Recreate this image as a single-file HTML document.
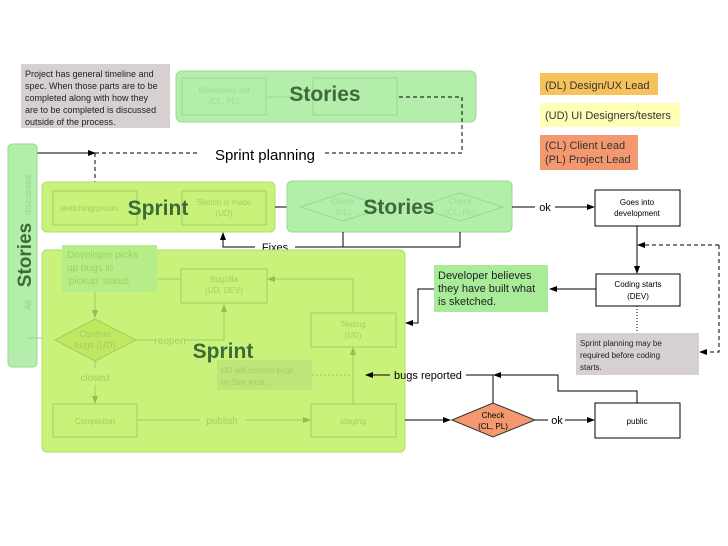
<!DOCTYPE html>
<html><head><style>body{margin:0;background:#fff}svg{display:block;font-family:"Liberation Sans",sans-serif}</style></head><body>
<svg width="728" height="546" viewBox="0 0 728 546" xmlns="http://www.w3.org/2000/svg">
<defs><marker id="a" markerWidth="8" markerHeight="8" refX="7" refY="4" orient="auto" markerUnits="userSpaceOnUse"><path d="M0,1 L8,4 L0,7z" fill="#000"/></marker>
<marker id="g" markerWidth="8" markerHeight="8" refX="7" refY="4" orient="auto" markerUnits="userSpaceOnUse"><path d="M0,1 L8,4 L0,7z" fill="#8cbf5a"/></marker></defs>
<!-- legend -->
<rect x="540" y="73" width="118" height="22" fill="#f7c25c"/><text x="545" y="89" font-size="11" fill="#333">(DL) Design/UX Lead</text>
<rect x="540" y="103" width="140" height="24" fill="#ffffb8"/><text x="545" y="119" font-size="11" fill="#333">(UD) UI Designers/testers</text>
<rect x="540" y="135" width="98" height="35" fill="#f4996f"/><text x="545" y="149" font-size="11" fill="#333">(CL) Client Lead</text><text x="545" y="163" font-size="11" fill="#333">(PL) Project Lead</text>
<!-- note -->
<rect x="21" y="64" width="149" height="64" fill="#d6d0d0"/>
<text font-size="9" fill="#222"><tspan x="25" y="77">Project has general timeline and</tspan><tspan x="25" y="89">spec. When those parts are to be</tspan><tspan x="25" y="101">completed along with how they</tspan><tspan x="25" y="113">are to be completed is discussed</tspan><tspan x="25" y="125">outside of the process.</tspan></text>
<!-- top stories -->
<rect x="176" y="71" width="300" height="51" rx="6" fill="#b3efaa" stroke="#9ad892"/>
<rect x="182" y="78" width="84" height="37" fill="none" stroke="#9ad892"/>
<rect x="313" y="78" width="84" height="37" fill="none" stroke="#9ad892"/>
<line x1="266" y1="97" x2="313" y2="97" stroke="#9ad892"/>
<text x="224" y="93" font-size="8" fill="#a6d79c" text-anchor="middle">Milestones set</text><text x="224" y="104" font-size="8" fill="#a6d79c" text-anchor="middle">(CL, PL)</text>
<text x="325" y="101" font-size="21" font-weight="bold" fill="#3e6a3a" text-anchor="middle">Stories</text>
<!-- sprint planning -->
<path d="M35,153 H95" stroke="#000" fill="none" marker-end="url(#a)"/>
<path d="M95,153 H200 M325,153 H462 V97 H397" stroke="#000" stroke-dasharray="4,3" fill="none"/>
<path d="M95,153 V185" stroke="#000" stroke-dasharray="4,3" fill="none"/>
<text x="265" y="160" font-size="15" text-anchor="middle" fill="#000">Sprint planning</text>
<!-- left stories -->
<rect x="8" y="144" width="29" height="223" rx="4" fill="#b3efaa" stroke="#9ad892"/>
<text transform="translate(31,255) rotate(-90)" font-size="19" font-weight="bold" fill="#3e6a3a" text-anchor="middle">Stories</text>
<text transform="translate(31,195) rotate(-90)" font-size="9" fill="#9dcf93" text-anchor="middle">discussed</text>
<text transform="translate(31,305) rotate(-90)" font-size="9" fill="#9dcf93" text-anchor="middle">All</text>
<path d="M28,338 H55" stroke="#9ad892" fill="none"/>
<!-- sprint top -->
<rect x="42" y="182" width="233" height="50" rx="5" fill="#c8f27a" stroke="#b0dc6a"/>
<rect x="53" y="191" width="84" height="34" fill="none" stroke="#9fd060"/>
<rect x="182" y="191" width="84" height="34" fill="none" stroke="#9fd060"/>
<text x="60" y="211" font-size="8" fill="#9fd060">sketching/provin</text>
<text x="224" y="205" font-size="8" fill="#9fd060" text-anchor="middle">Sketch is made</text><text x="224" y="216" font-size="8" fill="#9fd060" text-anchor="middle">(UD)</text>
<text x="158" y="215" font-size="21" font-weight="bold" fill="#3e6a3a" text-anchor="middle">Sprint</text>
<line x1="275" y1="207" x2="292" y2="207" stroke="#000"/>
<!-- middle stories -->
<rect x="287" y="181" width="225" height="51" rx="5" fill="#b3efaa" stroke="#9ad892"/>
<path d="M300,207 L343,193 L386,207 L343,221z M417,207 L460,193 L503,207 L460,221z" fill="none" stroke="#9ad892"/>
<text x="343" y="204" font-size="8" fill="#a6d79c" text-anchor="middle">Check</text><text x="343" y="215" font-size="8" fill="#a6d79c" text-anchor="middle">(DL)</text>
<text x="460" y="204" font-size="8" fill="#a6d79c" text-anchor="middle">Check</text><text x="460" y="215" font-size="8" fill="#a6d79c" text-anchor="middle">(CL, PL)</text>
<text x="399" y="214" font-size="21" font-weight="bold" fill="#3e6a3a" text-anchor="middle">Stories</text>
<path d="M512,207 H535 M555,207 H594" stroke="#000" fill="none" marker-end="url(#a)"/>
<text x="545" y="211" font-size="11" text-anchor="middle">ok</text>
<!-- fixes -->
<path d="M343,232 V247 M460,232 V247 H295 M255,247 H223 V233" stroke="#000" fill="none" marker-end="url(#a)"/>
<text x="275" y="251" font-size="11" text-anchor="middle">Fixes</text>
<!-- dev -->
<rect x="595" y="190" width="85" height="36" fill="#fff" stroke="#000"/>
<text x="637" y="205" font-size="8" text-anchor="middle">Goes into</text><text x="637" y="216" font-size="8" text-anchor="middle">development</text>
<path d="M637,226 V273" stroke="#000" marker-end="url(#a)"/>
<rect x="596" y="274" width="84" height="32" fill="#fff" stroke="#000"/>
<text x="638" y="287" font-size="8" text-anchor="middle">Coding starts</text><text x="638" y="299" font-size="8" text-anchor="middle">(DEV)</text>
<path d="M719,245 H638" stroke="#000" stroke-dasharray="4,3" marker-end="url(#a)"/>
<path d="M719,245 V352 H700" stroke="#000" stroke-dasharray="4,3" fill="none" marker-end="url(#a)"/>
<path d="M637,306 V333" stroke="#000" stroke-dasharray="1,2"/>
<rect x="576" y="333" width="123" height="42" fill="#d6d0d0"/>
<text font-size="8" fill="#222"><tspan x="580" y="346">Sprint planning may be</tspan><tspan x="580" y="358">required before coding</tspan><tspan x="580" y="370">starts.</tspan></text>
<path d="M596,289 H550" stroke="#000" marker-end="url(#a)"/>
<rect x="434" y="265" width="114" height="47" fill="#a8ec9a"/>
<text font-size="11" fill="#222"><tspan x="438" y="279">Developer believes</tspan><tspan x="438" y="292">they have built what</tspan><tspan x="438" y="305">is sketched.</tspan></text>
<path d="M434,289 H418 V323 H406" stroke="#000" fill="none" marker-end="url(#a)"/>
<!-- big sprint -->
<rect x="42" y="250" width="363" height="202" rx="5" fill="#c8f27a" stroke="#b0dc6a"/>
<rect x="62" y="245" width="95" height="47" fill="#b7ed88"/>
<text font-size="10" fill="#9fd060"><tspan x="67" y="258">Developer picks</tspan><tspan x="67" y="271">up bugs in</tspan><tspan x="67" y="284">'pickup' status</tspan></text>
<rect x="181" y="269" width="86" height="34" fill="none" stroke="#9fd060"/>
<text x="224" y="282" font-size="8" fill="#9fd060" text-anchor="middle">Bugzilla</text><text x="224" y="293" font-size="8" fill="#9fd060" text-anchor="middle">(UD, DEV)</text>
<path d="M55,340 L95,319 L136,340 L95,361z" fill="#c0e860" stroke="#9fd060"/>
<text x="95" y="337" font-size="9" fill="#9fd060" text-anchor="middle">Confirm</text><text x="95" y="348" font-size="9" fill="#9fd060" text-anchor="middle">bugs (UD)</text>
<rect x="311" y="313" width="85" height="34" fill="none" stroke="#9fd060"/>
<text x="353" y="327" font-size="8" fill="#9fd060" text-anchor="middle">Testing</text><text x="353" y="338" font-size="8" fill="#9fd060" text-anchor="middle">(UD)</text>
<rect x="53" y="404" width="84" height="33" fill="none" stroke="#9fd060"/>
<text x="95" y="424" font-size="8" fill="#9fd060" text-anchor="middle">Completion</text>
<rect x="311" y="404" width="85" height="33" fill="none" stroke="#9fd060"/>
<text x="353" y="424" font-size="8" fill="#9fd060" text-anchor="middle">staging</text>
<rect x="217" y="360" width="95" height="30" fill="#bee57a"/>
<text font-size="8" fill="#9fd060"><tspan x="221" y="373">UD will confirm bugs</tspan><tspan x="221" y="385">on Dev exist.</tspan></text>
<g stroke="#9fd060" fill="none"><path d="M157,279 H180"/><path d="M95,292 V317" marker-end="url(#g)"/><path d="M136,340 H155 M185,340 H224 V305" marker-end="url(#g)"/><path d="M353,312 V279 H268" marker-end="url(#g)"/><path d="M95,361 V368 M95,385 V403" marker-end="url(#g)"/><path d="M137,420 H200 M245,420 H310" marker-end="url(#g)"/><path d="M353,404 V348" marker-end="url(#g)"/><path d="M312,375 H350" stroke-dasharray="2,2"/></g>
<text x="95" y="381" font-size="10" fill="#9fd060" text-anchor="middle">closed</text>
<text x="170" y="344" font-size="10" fill="#9fd060" text-anchor="middle">reopen</text>
<text x="222" y="424" font-size="10" fill="#9fd060" text-anchor="middle">publish</text>
<text x="223" y="358" font-size="21" font-weight="bold" fill="#3e6a3a" text-anchor="middle">Sprint</text>
<!-- bottom right -->
<path d="M405,420 H450" stroke="#000" marker-end="url(#a)"/>
<path d="M452,420 L493,403 L535,420 L493,437z" fill="#f4996f" stroke="#333"/>
<text x="493" y="418" font-size="8" text-anchor="middle">Check</text><text x="493" y="429" font-size="8" text-anchor="middle">(CL, PL)</text>
<path d="M535,420 H548 M565,420 H594" stroke="#000" fill="none" marker-end="url(#a)"/>
<text x="557" y="424" font-size="11" text-anchor="middle">ok</text>
<rect x="595" y="403" width="85" height="35" fill="#fff" stroke="#000"/>
<text x="637" y="424" font-size="8" text-anchor="middle">public</text>
<path d="M637,403 V391 H558 V375 H494" stroke="#000" fill="none" marker-end="url(#a)"/>
<path d="M493,403 V375 H466" stroke="#000" fill="none"/>
<path d="M390,375 H366" stroke="#000" fill="none" marker-end="url(#a)"/>
<text x="428" y="379" font-size="11" text-anchor="middle">bugs reported</text>
</svg>
</body></html>
